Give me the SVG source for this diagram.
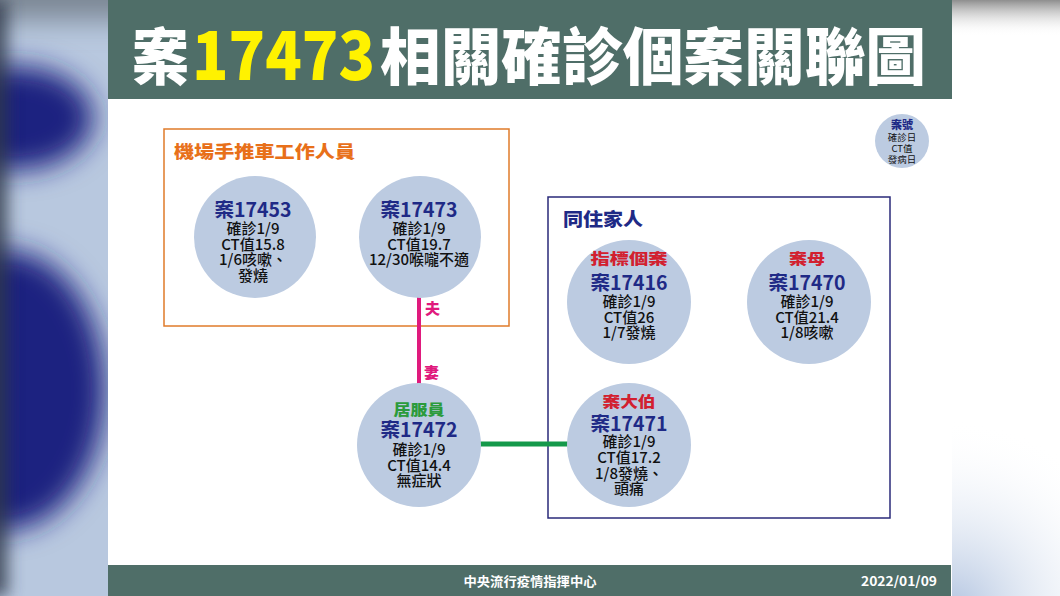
<svg xmlns="http://www.w3.org/2000/svg" width="1060" height="596" viewBox="0 0 1060 596">
<style>
  .f{font-family:"Noto Sans CJK TC","Noto Sans CJK SC",sans-serif}
  .node{fill:#bccbe1}
  .num{font-family:"Noto Sans CJK TC",sans-serif;font-weight:700;font-size:19.5px;fill:#1f2a86;text-anchor:middle}
  .det{font-family:"Noto Sans CJK TC",sans-serif;font-weight:500;font-size:15px;fill:#111;text-anchor:middle}
  .red{font-family:"Noto Sans CJK TC",sans-serif;font-weight:900;font-size:14.5px;fill:#d2202f;text-anchor:middle}
  .grn{font-family:"Noto Sans CJK TC",sans-serif;font-weight:900;font-size:14.5px;fill:#2b9b3c;text-anchor:middle}
  .pk{font-family:"Noto Sans CJK TC",sans-serif;font-weight:900;font-size:15px;fill:#e01a7d}
  .title{font-family:"Noto Sans CJK TC",sans-serif;font-weight:900;fill:#fff}
  .foot{font-family:"Noto Sans CJK TC",sans-serif;font-weight:700;font-size:13px;fill:#fff}
</style>
<defs>
  <filter id="blur" x="-100%" y="-100%" width="300%" height="300%"><feGaussianBlur stdDeviation="14"/></filter>
  <filter id="blur2" x="-100%" y="-100%" width="300%" height="300%"><feGaussianBlur stdDeviation="8"/></filter>
  <clipPath id="lc"><rect x="0" y="0" width="108" height="596"/></clipPath>
  <linearGradient id="rtop" x1="0" y1="0" x2="0" y2="1">
    <stop offset="0" stop-color="#8e8e8e"/>
    <stop offset="1" stop-color="#ffffff" stop-opacity="0"/>
  </linearGradient>
  <radialGradient id="rbot" cx="952" cy="610" r="190" gradientUnits="userSpaceOnUse">
    <stop offset="0" stop-color="#b2c4e0"/>
    <stop offset="1" stop-color="#ffffff" stop-opacity="0"/>
  </radialGradient>
</defs>

<!-- outside background -->
<g id="background">
  <rect x="0" y="0" width="108" height="596" fill="#b8c8df"/>
  <g clip-path="url(#lc)">
    <rect x="-40" y="-40" width="200" height="60" fill="#7c8794" filter="url(#blur)"/>
    <ellipse cx="15" cy="118" rx="78" ry="52" fill="#1f2380" filter="url(#blur)"/>
    <ellipse cx="5" cy="390" rx="100" ry="140" fill="#1e2080" filter="url(#blur)"/>
    <rect x="-30" y="0" width="38" height="596" fill="#2e3848" filter="url(#blur2)" opacity="0.8"/>
  </g>
  <rect x="952" y="0" width="108" height="596" fill="#ffffff"/>
  <rect x="952" y="0" width="108" height="36" fill="url(#rtop)"/>
  <rect x="952" y="380" width="108" height="216" fill="url(#rbot)"/>
</g>

<!-- slide -->
<rect x="108" y="0" width="844" height="596" fill="#ffffff"/>
<g id="title">
  <rect x="108" y="0" width="844" height="99" fill="#4f6e68"/>
  <text class="title" x="132" y="80" font-size="62" textLength="57" lengthAdjust="spacingAndGlyphs">案</text>
  <text class="title" x="192" y="80" font-size="67" style="fill:#fff200" textLength="183" lengthAdjust="spacingAndGlyphs">17473</text>
  <text class="title" x="380" y="80" font-size="62" textLength="546" lengthAdjust="spacingAndGlyphs">相關確診個案關聯圖</text>
</g>
<g id="footer">
  <rect x="108" y="565" width="843" height="31" fill="#4f6e68"/>
  <text class="foot" x="530" y="586" text-anchor="middle" textLength="133" lengthAdjust="spacingAndGlyphs">中央流行疫情指揮中心</text>
  <text class="foot" x="861" y="586" textLength="76" lengthAdjust="spacingAndGlyphs">2022/01/09</text>
</g>

<!-- groups -->
<g id="group-airport">
  <rect x="164" y="129" width="345" height="197" fill="none" stroke="#e07b2a" stroke-width="1.5"/>
  <text class="f" x="174" y="158" font-size="17" font-weight="900" fill="#e8701a" textLength="181" lengthAdjust="spacingAndGlyphs">機場手推車工作人員</text>
</g>
<g id="group-family">
  <rect x="548" y="197" width="342" height="321" fill="none" stroke="#2a2a7a" stroke-width="1.5"/>
  <text class="f" x="563" y="226" font-size="18" font-weight="900" fill="#1f2a86" textLength="80" lengthAdjust="spacingAndGlyphs">同住家人</text>
</g>

<!-- connectors -->
<g id="connectors">
  <line x1="419" y1="297" x2="419" y2="384" stroke="#e01a7d" stroke-width="4"/>
  <text class="pk" x="425" y="314">夫</text>
  <text class="pk" x="424" y="378">妻</text>
  <line x1="480" y1="444" x2="568" y2="444" stroke="#14994a" stroke-width="5"/>
</g>

<!-- legend -->
<g id="legend">
  <circle class="node" cx="902" cy="141" r="27"/>
  <text x="902" y="129" class="f" font-size="11" font-weight="900" fill="#1f2a86" text-anchor="middle">案號</text>
  <text x="902" y="141" class="f" font-size="9.5" fill="#111" text-anchor="middle">確診日</text>
  <text x="902" y="152" class="f" font-size="9.5" fill="#111" text-anchor="middle">CT值</text>
  <text x="902" y="163" class="f" font-size="9.5" fill="#111" text-anchor="middle">發病日</text>
</g>

<g id="case17453">
  <circle class="node" cx="255" cy="237" r="61"/>
  <text class="num" x="253" y="217">案17453</text>
  <text class="det" x="253" y="234">確診1/9</text>
  <text class="det" x="253" y="250">CT值15.8</text>
  <text class="det" x="253" y="265">1/6咳嗽、</text>
  <text class="det" x="253" y="281">發燒</text>
</g>

<g id="case17473">
  <circle class="node" cx="420" cy="237" r="61"/>
  <text class="num" x="419" y="217">案17473</text>
  <text class="det" x="419" y="234">確診1/9</text>
  <text class="det" x="419" y="250">CT值19.7</text>
  <text class="det" x="419" y="265">12/30喉嚨不適</text>
</g>

<g id="case17416">
  <circle class="node" cx="629" cy="302" r="62"/>
  <text class="red" x="629" y="264" textLength="77" lengthAdjust="spacingAndGlyphs">指標個案</text>
  <text class="num" x="629" y="290">案17416</text>
  <text class="det" x="629" y="307">確診1/9</text>
  <text class="det" x="629" y="323">CT值26</text>
  <text class="det" x="629" y="338">1/7發燒</text>
</g>

<g id="case17470">
  <circle class="node" cx="809" cy="302" r="62"/>
  <text class="red" x="807" y="264" textLength="36" lengthAdjust="spacingAndGlyphs">案母</text>
  <text class="num" x="807" y="290">案17470</text>
  <text class="det" x="807" y="307">確診1/9</text>
  <text class="det" x="807" y="323">CT值21.4</text>
  <text class="det" x="807" y="338">1/8咳嗽</text>
</g>

<g id="case17472">
  <circle class="node" cx="419" cy="445" r="62"/>
  <text class="grn" x="419" y="415" textLength="51" lengthAdjust="spacingAndGlyphs">居服員</text>
  <text class="num" x="419" y="437">案17472</text>
  <text class="det" x="419" y="455">確診1/9</text>
  <text class="det" x="419" y="471">CT值14.4</text>
  <text class="det" x="419" y="486">無症狀</text>
</g>

<g id="case17471">
  <circle class="node" cx="629" cy="445" r="62"/>
  <text class="red" x="629" y="407" textLength="53" lengthAdjust="spacingAndGlyphs">案大伯</text>
  <text class="num" x="629" y="431">案17471</text>
  <text class="det" x="629" y="447">確診1/9</text>
  <text class="det" x="629" y="463">CT值17.2</text>
  <text class="det" x="629" y="479">1/8發燒、</text>
  <text class="det" x="629" y="494">頭痛</text>
</g>
</svg>
